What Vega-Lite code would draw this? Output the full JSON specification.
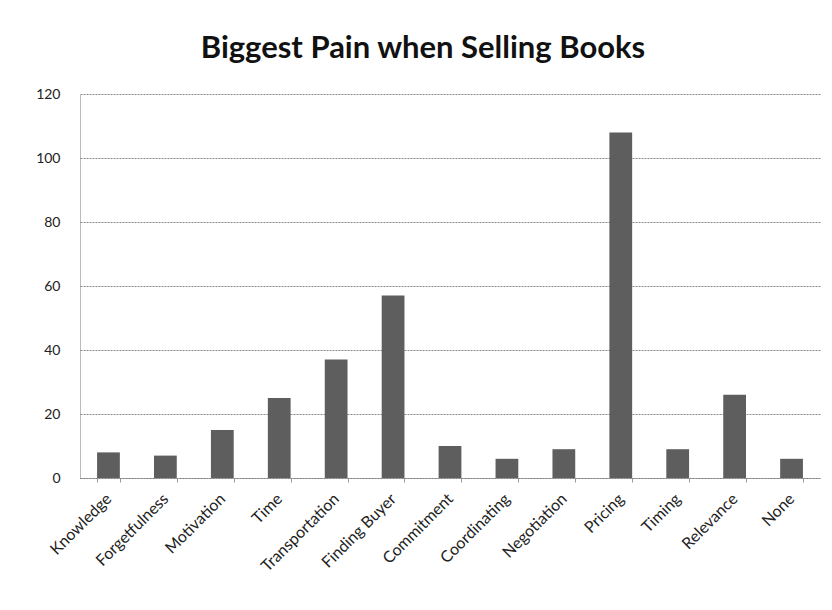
{
  "$schema": "https://vega.github.io/schema/vega-lite/v6.json",
  "autosize": {"type": "none"},
  "width": 740,
  "height": 384,
  "padding": {"left": 80, "top": 94, "right": 12, "bottom": 132},
  "background": "white",
  "title": {
    "text": "Biggest Pain when Selling Books",
    "font": "Lato",
    "fontSize": 31,
    "fontWeight": "bold",
    "color": "#111111",
    "anchor": "middle",
    "dx": -27,
    "offset": 22
  },
  "data": {
    "values": [
      {"category": "Knowledge", "count": 8},
      {"category": "Forgetfulness", "count": 7},
      {"category": "Motivation", "count": 15},
      {"category": "Time", "count": 25},
      {"category": "Transportation", "count": 37},
      {"category": "Finding Buyer", "count": 57},
      {"category": "Commitment", "count": 10},
      {"category": "Coordinating", "count": 6},
      {"category": "Negotiation", "count": 9},
      {"category": "Pricing", "count": 108},
      {"category": "Timing", "count": 9},
      {"category": "Relevance", "count": 26},
      {"category": "None", "count": 6}
    ]
  },
  "mark": {"type": "bar", "color": "#5e5e5e"},
  "encoding": {
    "x": {
      "field": "category",
      "type": "nominal",
      "sort": null,
      "scale": {"paddingInner": 0.6, "paddingOuter": 0.3},
      "axis": {
        "title": null,
        "labelAngle": -45,
        "labelAlign": "right",
        "labelBaseline": "middle",
        "labelFont": "Lato",
        "labelFontSize": 16,
        "labelColor": "#222222",
        "labelPadding": 14,
        "ticks": true,
        "tickBand": "extent",
        "tickSize": 4,
        "tickColor": "#999999",
        "domainColor": "#777777",
        "domainDash": [1, 1]
      }
    },
    "y": {
      "field": "count",
      "type": "quantitative",
      "scale": {"domain": [0, 120]},
      "axis": {
        "title": null,
        "values": [0, 20, 40, 60, 80, 100, 120],
        "labelFont": "Lato",
        "labelFontSize": 14,
        "labelColor": "#222222",
        "labelPadding": 20,
        "ticks": false,
        "gridColor": "#8a8a8a",
        "gridDash": [2, 1],
        "gridWidth": 1,
        "domainColor": "#777777",
        "domainDash": [1, 1]
      }
    }
  },
  "config": {"view": {"stroke": null}}
}
